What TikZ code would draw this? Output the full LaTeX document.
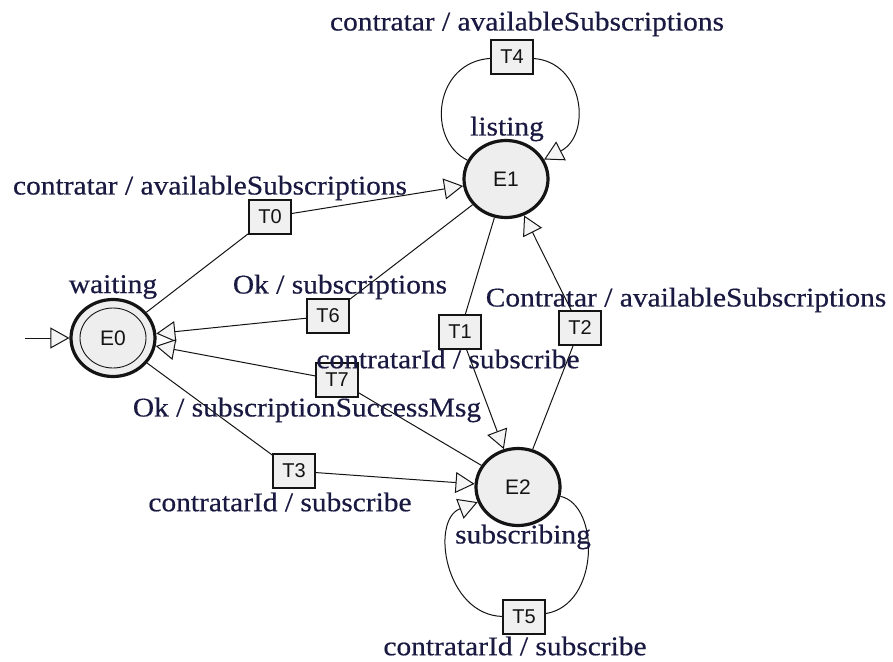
\documentclass[tikz,border=0pt]{standalone}
\usepackage{fontspec}
\setmainfont{Liberation Serif}[FakeStretch=1.09,FakeBold=0.5]
\newfontfamily\boxfont{Liberation Sans}
\usetikzlibrary{arrows.meta,shapes.geometric}
\definecolor{txt}{RGB}{25,25,65}
\definecolor{stfill}{RGB}{238,238,238}
\definecolor{tfill}{RGB}{240,240,240}
\definecolor{ink}{RGB}{20,20,20}
\tikzset{
  state/.style={ellipse, draw=ink, line width=3.2pt, fill=stfill, minimum width=84pt, minimum height=77pt, inner sep=0pt, text=ink, font=\boxfont\fontsize{21}{21}\selectfont},
  tbox/.style={rectangle, draw=ink, line width=1.1pt, fill=tfill, minimum width=42pt, minimum height=34pt, inner sep=0pt, text=ink, font=\boxfont\fontsize{20}{20}\selectfont},
  lbl/.style={font=\fontsize{27}{30}\selectfont, text=txt, inner sep=0pt},
  edge/.style={line width=1pt, draw=ink},
  arr/.style={edge, -{Triangle[length=19pt, width=21pt, fill=white!96!black]}}
}
\begin{document}
\begin{tikzpicture}[x=1pt,y=-1pt]
\useasboundingbox[fill=white] (0,0) rectangle (893,661);
% states
\node[state] (E0) at (113,338) {E0};
\draw[line width=0.9pt, draw=ink] (E0.center) ellipse [x radius=33, y radius=30];
\node[state] (E1) at (506,179) {E1};
\node[state] (E2) at (518,487) {E2};
% transition boxes
\node[tbox] (T0) at (270,217) {T0};
\node[tbox] (T1) at (460,332) {T1};
\node[tbox] (T2) at (580,328) {T2};
\node[tbox] (T3) at (294,471) {T3};
\node[tbox] (T4) at (512,57) {T4};
\node[tbox] (T5) at (524,617) {T5};
\node[tbox] (T6) at (328,316) {T6};
\node[tbox] (T7) at (337,380) {T7};
% initial arrow
\coordinate (init) at (25,338);
\draw[arr] (init) -- (E0);
% straight transitions
\draw[edge] (E0) -- (T0); \draw[arr] (T0) -- (E1);
\draw[edge] (E1) -- (T1); \draw[arr] (T1) -- (E2);
\draw[edge] (E2) -- (T2); \draw[arr] (T2) -- (E1);
\draw[edge] (E0) -- (T3); \draw[arr] (T3) -- (E2);
\draw[edge] (E1) -- (T6); \draw[arr] (T6) -- (E0);
\draw[edge] (E2) -- (T7); \draw[arr] (T7) -- (E0);
% self loops
\draw[edge] (E1) .. controls (426,140) and (434,62) .. (T4);
\draw[arr] (T4) .. controls (584,62) and (592,135) .. (E1);
\draw[edge] (E2) .. controls (600,505) and (600,605) .. (T5);
\draw[arr] (T5) .. controls (445,615) and (430,520) .. (E2);
% labels
\node[lbl] (lw) at (113,287) {waiting};
\node[lbl] (ll) at (507,129) {listing};
\node[lbl] (ls) at (523,537) {subscribing};
\node[lbl] (L4) at (527,24) {contratar / availableSubscriptions};
\node[lbl] (L0) at (210,188) {contratar / availableSubscriptions};
\node[lbl] (L6) at (340,287) {Ok / subscriptions};
\node[lbl] (L2) at (686,300) {Contratar / availableSubscriptions};
\node[lbl] (L1) at (448,359) {contratarId / subscribe};
\node[lbl] (L7) at (307,410) {Ok / subscriptionSuccessMsg};
\node[lbl] (L3) at (280,502) {contratarId / subscribe};
\node[lbl] (L5) at (515,646) {contratarId / subscribe};
\end{tikzpicture}
\end{document}
